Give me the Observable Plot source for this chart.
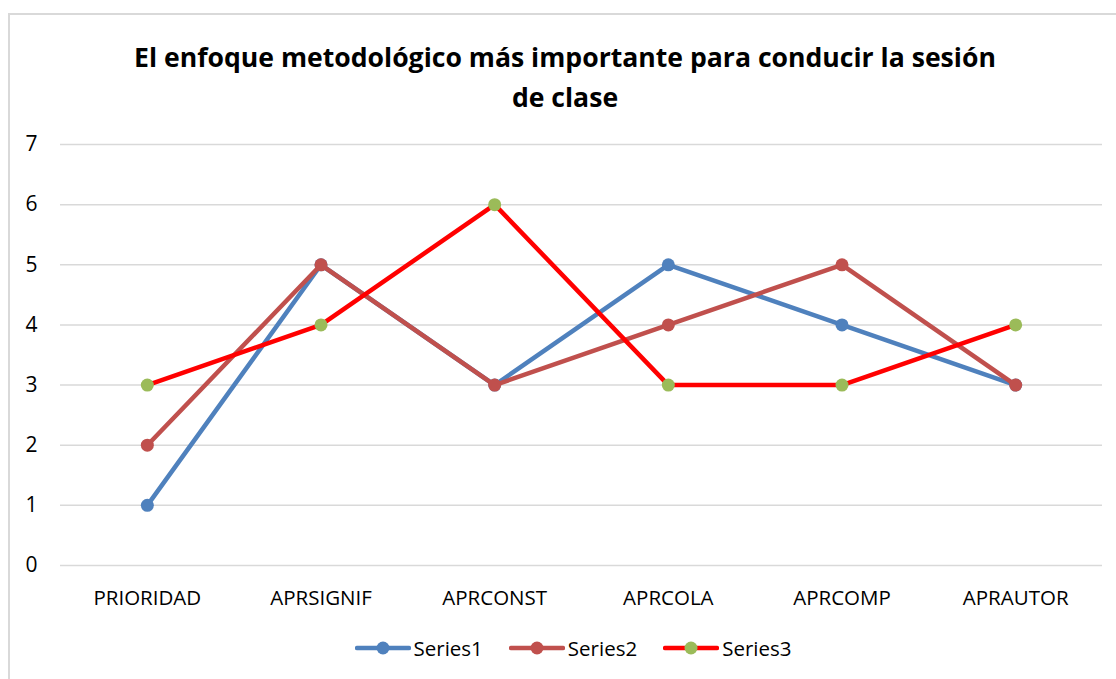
<!DOCTYPE html>
<html>
<head>
<meta charset="utf-8">
<script src="https://cdn.jsdelivr.net/npm/d3@7"></script>
<script src="https://cdn.jsdelivr.net/npm/@observablehq/plot@0.6"></script>
<style>
  html, body { margin: 0; padding: 0; background: #fff; }
  body { width: 1116px; height: 679px; position: relative; overflow: hidden; font-family: "Open Sans", "Noto Sans", sans-serif; }
  #frame { position: absolute; left: 8px; top: 13px; width: 1130px; height: 700px; border: 2px solid #d9d9d9; box-sizing: border-box; }
  #title { position: absolute; left: 0; top: 37px; width: 1130px; text-align: center; font-weight: bold; font-size: 26.6px; line-height: 40px; color: #000; }
  #chart { position: absolute; left: 0; top: 0; }
  #legend { position: absolute; left: 0; top: 634px; width: 1146px; display: flex; justify-content: center; gap: 26px; font-size: 20.5px; color: #000; }
  .item { display: flex; align-items: center; gap: 3px; }
</style>
</head>
<body>
<div id="frame"></div>
<div id="chart"></div>
<div id="title">El enfoque metodológico más importante para conducir la sesión<br>de clase</div>
<div id="legend"></div>
<script>
const categories = ["PRIORIDAD", "APRSIGNIF", "APRCONST", "APRCOLA", "APRCOMP", "APRAUTOR"];
const seriesNames = ["Series1", "Series2", "Series3"];
const series1 = [1, 5, 3, 5, 4, 3];
const series2 = [2, 5, 3, 4, 5, 3];
const series3 = [3, 4, 6, 3, 3, 4];
const yTicks = [0, 1, 2, 3, 4, 5, 6, 7];
const lineColors = ["#4F81BD", "#C0504D", "#FF0000"];
const markerColors = ["#4F81BD", "#C0504D", "#9BBB59"];

const allValues = [series1, series2, series3];
const data = [];
allValues.forEach((vals, s) => vals.forEach((v, i) => data.push({series: seriesNames[s], category: categories[i], value: v})));

const marks = [
  Plot.ruleY(yTicks, {stroke: "#d9d9d9", strokeWidth: 1.5}),
  Plot.axisY({ticks: yTicks, tickSize: 0, tickPadding: 23, fontSize: 21, tickFormat: d => d}),
  Plot.axisX({tickSize: 0, tickPadding: 25, fontSize: 20.5})
];
seriesNames.forEach((name, s) => {
  const d = data.filter(r => r.series === name);
  marks.push(Plot.line(d, {x: "category", y: "value", stroke: lineColors[s], strokeWidth: 4.5, strokeLinejoin: "round", strokeLinecap: "round"}));
  marks.push(Plot.dot(d, {x: "category", y: "value", fill: markerColors[s], r: 6.5}));
});

const chart = Plot.plot({
  width: 1116,
  height: 679,
  marginLeft: 60,
  marginRight: 14,
  marginTop: 144,
  marginBottom: 114,
  style: {fontFamily: "'Open Sans', 'Noto Sans', sans-serif", color: "#000", background: "transparent"},
  x: {type: "point", domain: categories, padding: 0.5, label: null, round: false},
  y: {domain: [0, 7], label: null},
  marks
});
document.getElementById("chart").appendChild(chart);

const legend = document.getElementById("legend");
seriesNames.forEach((name, s) => {
  const item = document.createElement("div");
  item.className = "item";
  item.innerHTML = `<svg width="56" height="16"><line x1="2" y1="8" x2="54" y2="8" stroke="${lineColors[s]}" stroke-width="4.5" stroke-linecap="round"/><circle cx="28" cy="8" r="6.5" fill="${markerColors[s]}"/></svg><span>${name}</span>`;
  legend.appendChild(item);
});
</script>
</body>
</html>
